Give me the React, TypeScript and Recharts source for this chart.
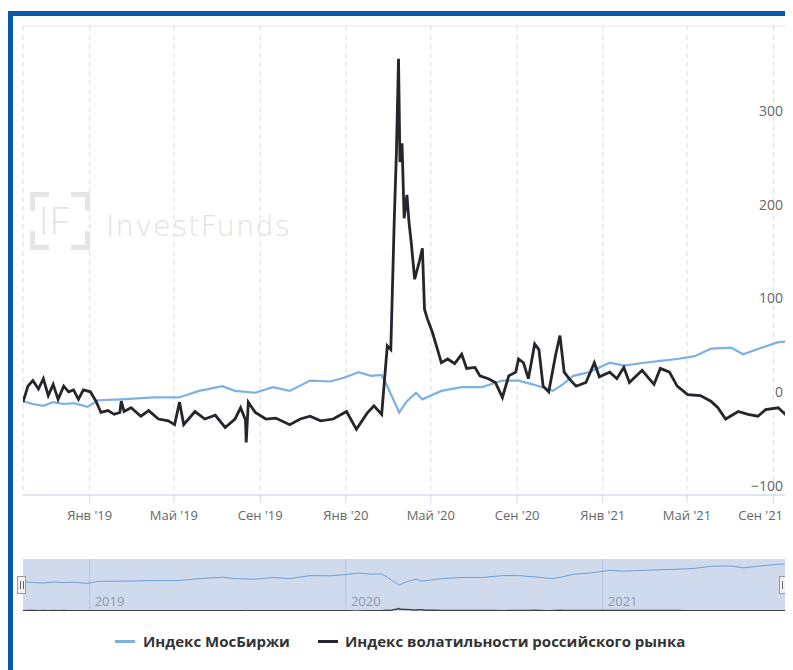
import React from 'react';
import { LineChart, Line, XAxis, YAxis, CartesianGrid, ReferenceLine } from 'recharts';

// Индекс МосБиржи, % change from start
const mosDates = [
  '2018-09-28', '2018-10-12', '2018-10-27', '2018-11-10', '2018-11-25', '2018-12-09', '2018-12-29',
  '2019-01-13', '2019-02-15', '2019-03-10', '2019-04-03', '2019-05-08', '2019-06-06', '2019-07-09',
  '2019-07-27', '2019-08-25', '2019-09-19', '2019-10-13', '2019-11-11', '2019-12-10', '2019-12-29',
  '2020-01-19', '2020-02-06', '2020-02-21', '2020-02-29', '2020-03-17', '2020-03-28', '2020-04-10',
  '2020-04-19', '2020-05-16', '2020-06-14', '2020-07-13', '2020-08-11', '2020-09-03', '2020-09-23',
  '2020-10-22', '2020-11-05', '2020-11-20', '2020-12-13', '2021-01-11', '2021-01-31', '2021-03-01',
  '2021-03-24', '2021-04-17', '2021-05-12', '2021-06-04', '2021-07-03', '2021-07-20', '2021-08-15',
  '2021-09-08', '2021-09-27',
];
const mosValues = [
  0, -3, -5, -1, -3, -2, -6,
  1, 2, 3, 4, 4, 11, 16,
  11, 9, 15, 11, 22, 21, 25,
  31, 27, 28, 16, -12, 0, 9,
  2, 11, 15, 15, 22, 22, 18,
  11, 18, 27, 31, 41, 38, 41,
  43, 45, 48, 56, 57, 50, 57,
  63, 64,
];

// Индекс волатильности российского рынка, % change from start
const volDates = [
  '2018-09-28', '2018-10-05', '2018-10-12', '2018-10-20', '2018-10-27', '2018-11-03', '2018-11-10',
  '2018-11-17', '2018-11-25', '2018-12-02', '2018-12-09', '2018-12-16', '2018-12-23', '2019-01-02',
  '2019-01-10', '2019-01-17', '2019-01-27', '2019-02-05', '2019-02-13', '2019-02-15', '2019-02-19',
  '2019-03-01', '2019-03-15', '2019-03-26', '2019-04-09', '2019-04-23', '2019-05-02', '2019-05-09',
  '2019-05-15', '2019-05-31', '2019-06-14', '2019-06-29', '2019-07-13', '2019-07-27', '2019-08-04',
  '2019-08-11', '2019-08-12', '2019-08-15', '2019-08-25', '2019-09-09', '2019-09-23', '2019-10-13',
  '2019-10-28', '2019-11-11', '2019-11-26', '2019-12-14', '2020-01-02', '2020-01-16', '2020-01-31',
  '2020-02-10', '2020-02-21', '2020-02-29', '2020-03-05', '2020-03-10', '2020-03-13', '2020-03-16',
  '2020-03-18', '2020-03-21', '2020-03-24', '2020-03-28', '2020-03-31', '2020-04-03', '2020-04-08',
  '2020-04-15', '2020-04-19', '2020-04-22', '2020-04-26', '2020-05-03', '2020-05-09', '2020-05-16',
  '2020-05-25', '2020-06-04', '2020-06-14', '2020-06-21', '2020-07-03', '2020-07-10', '2020-07-22',
  '2020-08-01', '2020-08-11', '2020-08-20', '2020-08-30', '2020-09-03', '2020-09-10', '2020-09-17',
  '2020-09-26', '2020-10-02', '2020-10-08', '2020-10-16', '2020-10-26', '2020-11-01', '2020-11-07',
  '2020-11-14', '2020-11-24', '2020-12-08', '2020-12-20', '2020-12-27', '2021-01-11', '2021-01-21',
  '2021-01-31', '2021-02-08', '2021-02-26', '2021-03-15', '2021-03-24', '2021-04-06', '2021-04-17',
  '2021-05-02', '2021-05-20', '2021-06-04', '2021-06-14', '2021-06-25', '2021-07-13', '2021-07-27',
  '2021-08-10', '2021-08-21', '2021-09-08', '2021-09-18', '2021-09-23', '2021-09-27',
];
const volValues = [
  -1, 16, 22, 13, 24, 6, 18,
  2, 16, 10, 12, 2, 12, 10,
  0, -12, -10, -14, -12, 0, -11,
  -7, -16, -10, -19, -21, -25, -1,
  -25, -11, -19, -15, -28, -19, -7,
  -20, -44, -1, -12, -19, -18, -25,
  -19, -16, -21, -19, -11, -30, -13,
  -5, -14, 59, 55, 195, 265, 365,
  255, 275, 195, 220, 190, 170, 130,
  150, 163, 98, 88, 74, 59, 41,
  45, 40, 50, 35, 36, 27, 24,
  20, 4, 27, 31, 45, 41, 24,
  61, 55, 16, 10, 50, 70, 31,
  24, 16, 20, 41, 26, 31, 24,
  36, 20, 33, 18, 35, 31, 16,
  7, 6, 0, -7, -19, -11, -14,
  -16, -9, -7, -14, 0, -7,
];

const xTickDates = [
  '2019-01-01', '2019-05-01', '2019-09-01', '2020-01-01', '2020-05-01',
  '2020-09-01', '2021-01-01', '2021-05-01', '2021-09-01',
];
const xTickLabels = [
  "Янв '19", "Май '19", "Сен '19", "Янв '20", "Май '20",
  "Сен '20", "Янв '21", "Май '21", "Сен '21",
];
const yTicks = [-100, 0, 100, 200, 300, 400];
const yLabels = ['−100', '0', '100', '200', '300'];
const navYears = ['2019', '2020', '2021'];

const toTime = (d: string) => Date.parse(d + 'T00:00:00Z');

const mosData = mosDates.map((d, i) => ({ t: toTime(d), v: mosValues[i] }));
const volData = volDates.map((d, i) => ({ t: toTime(d), v: volValues[i] }));
const xTicks = xTickDates.map(toTime);
const xDomain = [toTime('2018-09-28'), toTime('2021-09-29')];

const BLUE = '#7cb1e2';
const DARK = '#25262b';
const FONT = '"Open Sans", "DejaVu Sans", sans-serif';
const LABEL_RIGHT = 775;

const XTick = (props: any) => {
  const { x, y, payload } = props;
  const idx = xTicks.indexOf(payload.value);
  const last = idx === xTicks.length - 1;
  return (
    <text
      x={last ? LABEL_RIGHT : x}
      y={y + 15}
      textAnchor={last ? 'end' : 'middle'}
      fill="#666"
      fontSize={13}
      fontFamily={FONT}
    >
      {idx >= 0 ? xTickLabels[idx] : ''}
    </text>
  );
};

const YLabel = (props: any) => {
  const { viewBox, value } = props;
  return (
    <text x={LABEL_RIGHT} y={viewBox.y - 4} textAnchor="end" fill="#666" fontSize={14} fontFamily={FONT}>
      {value}
    </text>
  );
};

const YearLabel = (props: any) => {
  const { viewBox, value } = props;
  return (
    <text x={viewBox.x + 5} y={viewBox.y + 47} fill="#8e99ad" fontSize={13} fontFamily={FONT}>
      {value}
    </text>
  );
};

const Handle = ({ left }: { left: number }) => (
  <div
    style={{
      position: 'absolute', left, top: 568, width: 9, height: 18,
      background: '#f2f2f2', border: '1px solid #999', boxSizing: 'border-box',
      display: 'flex', justifyContent: 'center', alignItems: 'center', gap: 2,
    }}
  >
    <div style={{ width: 1, height: 8, background: '#666' }} />
    <div style={{ width: 1, height: 8, background: '#666' }} />
  </div>
);

const corner = '5px solid #e6e6e6';

export default function App() {
  return (
    <div style={{ position: 'relative', width: 785, height: 662, background: '#fff', overflow: 'hidden', fontFamily: FONT }}>
      <div style={{ position: 'absolute', left: 0, top: 3, width: 785, height: 5, background: '#0a58a8' }} />
      <div style={{ position: 'absolute', left: 0, top: 3, width: 5, height: 659, background: '#0a58a8' }} />

      {/* watermark */}
      <div style={{ position: 'absolute', left: 22, top: 184, width: 60, height: 58 }}>
        <div style={{ position: 'absolute', left: 0, top: 0, width: 14, height: 14, borderLeft: corner, borderTop: corner }} />
        <div style={{ position: 'absolute', right: 0, top: 0, width: 14, height: 14, borderRight: corner, borderTop: corner }} />
        <div style={{ position: 'absolute', left: 0, bottom: 0, width: 14, height: 14, borderLeft: corner, borderBottom: corner }} />
        <div style={{ position: 'absolute', right: 0, bottom: 0, width: 14, height: 14, borderRight: corner, borderBottom: corner }} />
        <div style={{ position: 'absolute', left: 9, top: 6, fontSize: 38, lineHeight: '44px', fontWeight: 300, color: '#e4e4e4', letterSpacing: 1 }}>IF</div>
      </div>
      <div style={{ position: 'absolute', left: 98, top: 201, fontSize: 29, lineHeight: '34px', fontWeight: 300, color: '#e2e2e2', letterSpacing: 1, fontFamily: '"DejaVu Sans", sans-serif' }}>
        InvestFunds
      </div>

      <div style={{ position: 'absolute', left: 0, top: 0 }}>
        <LineChart width={785} height={520} margin={{ top: 18, right: 0, left: 15, bottom: 0 }}>
          <CartesianGrid vertical={false} stroke="#e6e6e6" />
          <CartesianGrid horizontal={false} stroke="#dcdcdc" strokeDasharray="5 4" />
          <XAxis
            dataKey="t"
            type="number"
            domain={xDomain}
            ticks={xTicks}
            allowDataOverflow
            height={33}
            axisLine={{ stroke: '#ccd6eb' }}
            tickLine={{ stroke: '#ccd6eb' }}
            tickSize={8}
            tick={<XTick />}
            interval={0}
          />
          <YAxis
            orientation="right"
            mirror
            width={0}
            domain={[-100, 400]}
            ticks={yTicks}
            axisLine={false}
            tickLine={false}
            tick={false}
          />
          {yLabels.map((lbl, i) => (
            <ReferenceLine key={lbl} y={yTicks[i]} stroke="none" label={<YLabel value={lbl} />} />
          ))}
          <Line data={mosData} dataKey="v" stroke={BLUE} strokeWidth={2.2} dot={false} isAnimationActive={false} />
          <Line data={volData} dataKey="v" stroke={DARK} strokeWidth={2.8} dot={false} isAnimationActive={false} />
        </LineChart>
      </div>

      {/* navigator */}
      <div style={{ position: 'absolute', left: 15, top: 551, width: 770, height: 52, background: '#d0daed' }} />
      <div style={{ position: 'absolute', left: 0, top: 551 }}>
        <LineChart width={785} height={52} margin={{ top: 0, right: 0, left: 15, bottom: 0 }}>
          <XAxis dataKey="t" type="number" domain={xDomain} allowDataOverflow hide />
          <YAxis yAxisId="m" domain={[-106, 82]} hide />
          <YAxis yAxisId="v" domain={[-50, 9000]} hide />
          {navYears.map((yr) => (
            <ReferenceLine
              key={yr}
              yAxisId="m"
              x={toTime(`${yr}-01-01`)}
              stroke="#b6c2da"
              label={<YearLabel value={yr} />}
            />
          ))}
          <Line yAxisId="m" data={mosData} dataKey="v" stroke="#6f9fd6" strokeWidth={1} dot={false} isAnimationActive={false} />
          <Line yAxisId="v" data={volData} dataKey="v" stroke="#444" strokeWidth={1.5} dot={false} isAnimationActive={false} />
        </LineChart>
      </div>
      <Handle left={9} />
      <Handle left={771} />

      {/* legend */}
      <div style={{ position: 'absolute', left: 107, top: 632, width: 20, height: 3, background: BLUE }} />
      <div style={{ position: 'absolute', left: 135, top: 623, fontSize: 15, lineHeight: '20px', fontWeight: 700, color: '#333' }}>
        Индекс МосБиржи
      </div>
      <div style={{ position: 'absolute', left: 310, top: 632, width: 20, height: 3, background: DARK }} />
      <div style={{ position: 'absolute', left: 337, top: 623, fontSize: 15, lineHeight: '20px', fontWeight: 700, color: '#333' }}>
        Индекс волатильности российского рынка
      </div>
    </div>
  );
}
